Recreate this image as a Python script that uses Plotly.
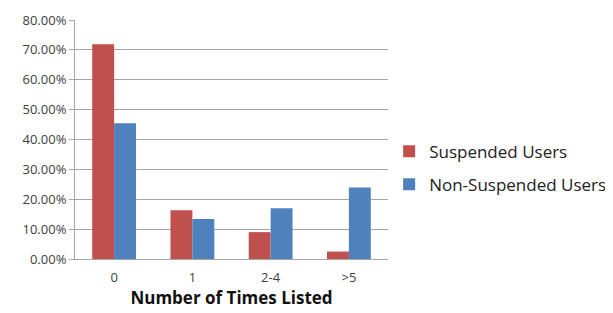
import plotly.graph_objects as go

categories = ["0", "1", "2-4", ">5"]
suspended = [0.719, 0.163, 0.090, 0.025]
non_suspended = [0.454, 0.134, 0.170, 0.239]
y_ticks = [0, 0.1, 0.2, 0.3, 0.4, 0.5, 0.6, 0.7, 0.8]

fig = go.Figure()
fig.add_trace(go.Bar(name="Suspended Users", x=categories, y=suspended,
                     legendgroup="s",
                     marker=dict(color="#C0504D", line=dict(width=0))))
fig.add_trace(go.Bar(name="Non-Suspended Users", x=categories, y=non_suspended,
                     legendgroup="n",
                     marker=dict(color="#4F81BD", line=dict(width=0))))

fig.update_layout(
    width=605, height=305,
    margin=dict(l=67, r=225, t=12, b=54),
    paper_bgcolor="white", plot_bgcolor="white",
    barmode="group", bargap=0.44, bargroupgap=0,
    font=dict(family="Open Sans", color="#404040", size=13),
    legend=dict(xref="container", yref="container",
                x=0.630, xanchor="left", y=0.475, yanchor="middle",
                font=dict(size=17, color="#222222"), tracegroupgap=8,
                itemwidth=30),
    showlegend=True,
)
fig.update_yaxes(range=[0, 0.8], tickvals=y_ticks, tickformat=".2%",
                 ticksuffix="\u00a0\u00a0",
                 showgrid=True, gridcolor="#A6A6A6", gridwidth=1,
                 showline=True, linecolor="#A6A6A6", ticks="outside",
                 ticklen=5, tickcolor="#A6A6A6", tickfont=dict(size=13),
                 zeroline=False, automargin=False)
fig.update_xaxes(showline=True, linecolor="#A6A6A6", ticks="",
                 tickfont=dict(size=13), ticklabelstandoff=6,
                 automargin=False,
                 title=dict(text="<b>Number of Times Listed</b>",
                            font=dict(size=17, color="#111111"), standoff=4))

fig.write_html("out.html")
